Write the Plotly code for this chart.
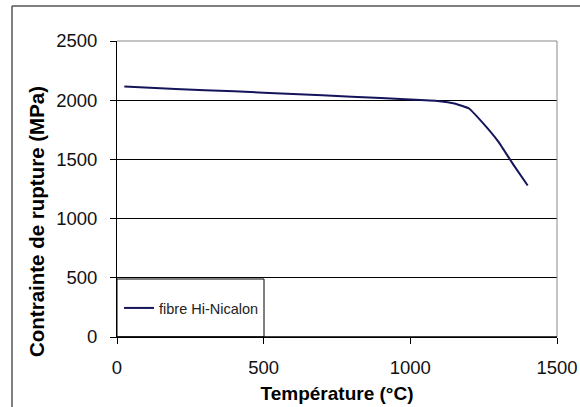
import plotly.graph_objects as go

# Data
temperature = [25, 200, 400, 600, 800, 1000, 1100, 1150, 1200, 1250, 1300, 1350, 1400]
contrainte = [2115, 2095, 2075, 2052, 2030, 2005, 1992, 1972, 1930, 1800, 1650, 1460, 1280]
series_name = "fibre Hi-Nicalon"
x_ticks = [0, 500, 1000, 1500]
y_ticks = [0, 500, 1000, 1500, 2000, 2500]

W, H = 580, 407
ML, MR, MT, MB = 117, 23, 41, 70
PW, PH = W - ML - MR, H - MT - MB

def px_x(px):
    return (px - ML) / PW

def px_y(py):
    return (H - MB - py) / PH

FONT = "Liberation Sans, Arial, sans-serif"

fig = go.Figure()
fig.add_trace(go.Scatter(
    x=temperature, y=contrainte, mode="lines", name=series_name,
    line=dict(color="#14145a", width=2, shape="spline", smoothing=0.3),
    showlegend=True,
))

fig.update_layout(
    width=W, height=H,
    margin=dict(l=ML, r=MR, t=MT, b=MB, autoexpand=False),
    paper_bgcolor="white", plot_bgcolor="white",
    font=dict(family=FONT, color="black"),
    showlegend=True,
    legend=dict(
        x=px_x(119), y=px_y(308), xanchor="left", yanchor="middle",
        bgcolor="rgba(0,0,0,0)", borderwidth=0,
        font=dict(size=14.5, family=FONT, color="#222"),
        itemwidth=30,
    ),
    xaxis=dict(
        range=[0, 1500], tickvals=x_ticks,
        showgrid=False, zeroline=False, automargin=False,
        showline=True, linecolor="black", linewidth=1,
        ticks="outside", ticklen=6, tickcolor="black",
        ticklabelstandoff=8,
        tickfont=dict(size=18.5, family=FONT, color="#111"),
        title=dict(text="<b>Température (°C)</b>", standoff=9,
                   font=dict(size=19, family=FONT, color="black")),
        fixedrange=True,
    ),
    yaxis=dict(
        range=[0, 2500], tickvals=y_ticks,
        showgrid=True, gridcolor="black", gridwidth=1,
        zeroline=False, automargin=False,
        showline=True, linecolor="black", linewidth=1,
        ticks="outside", ticklen=6, tickcolor="black",
        ticklabelstandoff=9,
        tickfont=dict(size=18.5, family=FONT, color="#111"),
        fixedrange=True,
    ),
    annotations=[dict(
        text="<b>Contrainte de rupture (MPa)</b>", textangle=-90,
        xref="paper", yref="paper", x=px_x(36), y=px_y(222),
        xanchor="center", yanchor="middle", showarrow=False,
        font=dict(size=20.5, family=FONT, color="black"),
    )],
    shapes=[
        # outer chart border (left and top visible)
        dict(type="line", xref="paper", yref="paper",
             x0=px_x(12), y0=px_y(6), x1=px_x(585), y1=px_y(6),
             line=dict(color="#555", width=1.5)),
        dict(type="line", xref="paper", yref="paper",
             x0=px_x(12), y0=px_y(6), x1=px_x(12), y1=px_y(412),
             line=dict(color="#555", width=1.5)),
        # plot area top/right border (grey)
        dict(type="line", xref="paper", yref="paper", x0=0, y0=1, x1=1, y1=1,
             line=dict(color="#8a8a8a", width=1), layer="above"),
        dict(type="line", xref="paper", yref="paper", x0=1, y0=0, x1=1, y1=1,
             line=dict(color="#8a8a8a", width=1), layer="above"),
        # legend box
        dict(type="rect", xref="paper", yref="paper",
             x0=0, y0=0, x1=px_x(264), y1=px_y(279),
             line=dict(color="black", width=1), layer="above"),
        # thicker bottom axis line
        dict(type="line", xref="paper", yref="paper", x0=0, y0=0, x1=1, y1=0,
             line=dict(color="black", width=1.5), layer="above"),
    ],
)

fig.write_html(
    "out.html",
    config={"displayModeBar": False},
    post_script="document.body.style.margin='0px';document.body.style.overflow='hidden';",
)
